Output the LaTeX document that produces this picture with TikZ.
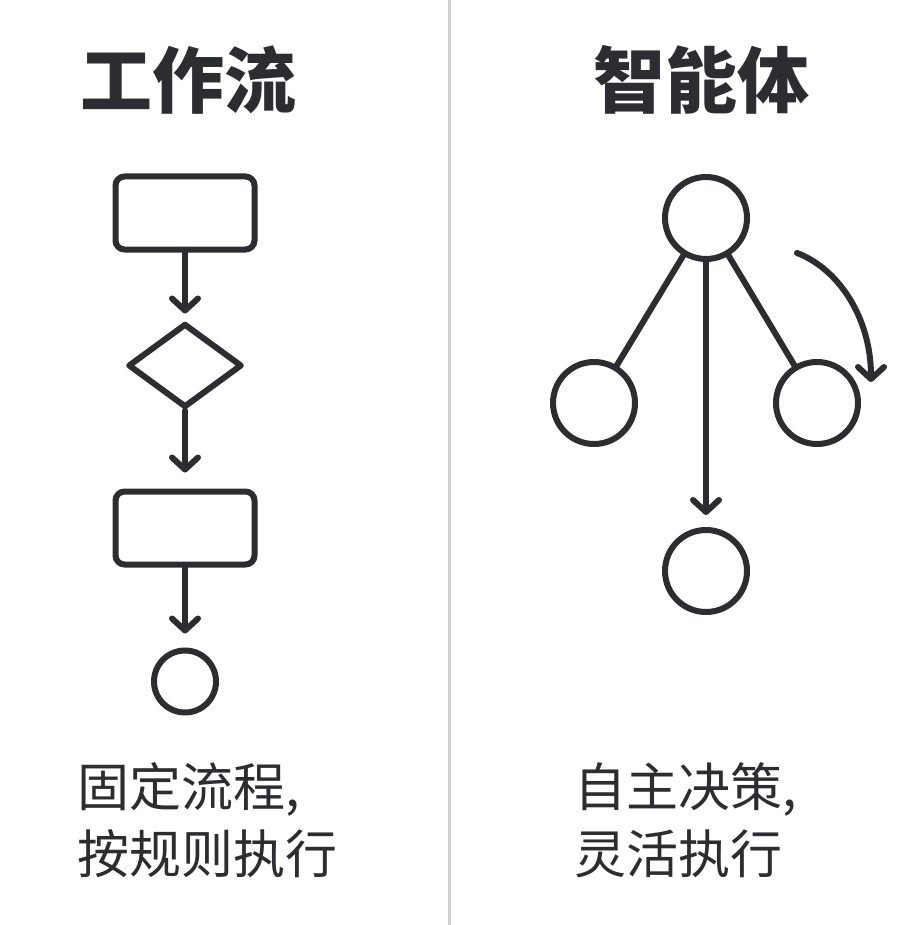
\documentclass[tikz,border=0pt]{standalone}
\usepackage{fontspec}
\setmainfont{Noto Sans CJK SC}
\usepackage{tikz}
\usetikzlibrary{positioning,shapes.geometric,arrows.meta}
\definecolor{inkgray}{RGB}{43,45,49}
\definecolor{rulegray}{RGB}{208,208,208}

\begin{document}
\begin{tikzpicture}[
  x=1pt, y=1pt,
  box/.style={rectangle, rounded corners=9pt, draw=inkgray, line width=6pt,
              minimum width=139pt, minimum height=73pt, inner sep=0pt},
  decision/.style={diamond, draw=inkgray, line width=6pt, line join=round,
              minimum width=114pt, minimum height=84pt, inner sep=0pt},
  dot/.style={circle, draw=inkgray, line width=6pt, inner sep=0pt},
  link/.style={draw=inkgray, line width=6pt, line cap=round},
  arr/.style={link, -{Straight Barb[length=12pt,width=26pt,round]}},
  heading/.style={font=\fontsize{72}{80}\selectfont\bfseries, text=inkgray, inner sep=0pt},
  caption/.style={font=\fontsize{52}{67}\selectfont, text=inkgray, align=left, inner sep=0pt},
]
\path[use as bounding box, fill=white] (0,0) rectangle (909,-925);
\draw[rulegray, line width=3pt] (449,0) -- (449,-925);

\node[heading] (wftitle) at (188,-80) {工作流};
\node[box] (step1) at (185,-213) {};
\node[decision, below=68pt of step1] (check) {};
\node[box, below=78pt of check] (step2) {};
\node[dot, minimum size=62pt, below=80pt of step2] (finish) {};
\draw[arr, shorten >=7pt] (step1) -- (check);
\draw[arr, shorten >=16pt] (check) -- (step2);
\draw[arr, shorten >=14pt] (step2) -- (finish);
\node[caption, anchor=west] (wfnote) at (77,-820) {固定流程,\\按规则执行};

\node[heading] (agtitle) at (701,-80) {智能体};
\node[dot, minimum size=82pt] (hub) at (706,-218) {};
\node[dot, minimum size=82pt] (leafl) at (594,-403) {};
\node[dot, minimum size=82pt] (leafr) at (817,-403) {};
\node[dot, minimum size=82pt] (leafb) at (706,-571) {};
\draw[link] (hub) -- (leafl);
\draw[link] (hub) -- (leafr);
\draw[arr, shorten >=12pt] (hub) -- (leafb);
\coordinate (loopa) at (797,-253);
\coordinate (loopb) at (871,-382);
\draw[arr] (loopa) .. controls (837,-268) and (871,-316) .. (loopb);
\node[caption, anchor=west] (agnote) at (574,-820) {自主决策,\\灵活执行};
\end{tikzpicture}
\end{document}
